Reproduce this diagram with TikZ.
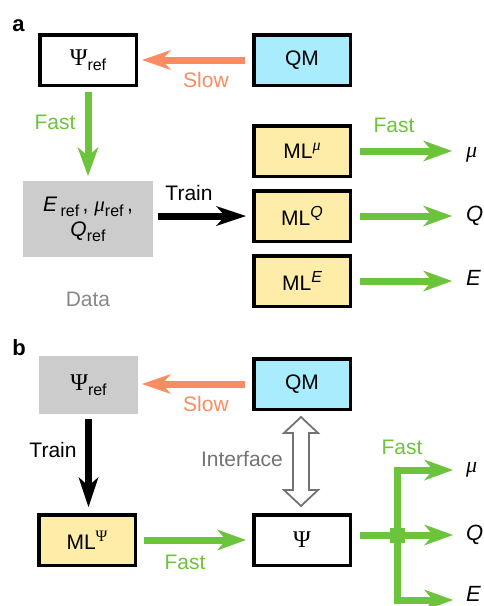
\documentclass[tikz,border=0pt]{standalone}
\usepackage{fontspec}
\setmainfont{Liberation Sans}
\newfontfamily\grk{Liberation Serif}
\usetikzlibrary{arrows.meta,calc}
\definecolor{fastgreen}{HTML}{6CC33C}
\definecolor{sloworange}{HTML}{F98C62}
\definecolor{qmcyan}{HTML}{A8ECFD}
\definecolor{mlyellow}{HTML}{FEEDA9}
\definecolor{datagray}{HTML}{CCCCCC}
\definecolor{labelgray}{HTML}{888888}
\definecolor{ifgray}{HTML}{737373}
\newcommand\mysub[1]{\raisebox{-5pt}{\fontsize{16}{16}\selectfont #1}}
\newcommand\mysup[1]{\raisebox{8pt}{\fontsize{16}{16}\selectfont #1}}
\newcommand\gPsi{{\grk\fontsize{24}{25}\selectfont Ψ}}
\newcommand\gPsiS{{\grk Ψ}}
\newcommand\gmu{{\grk\itshape μ}}
\begin{document}
\begin{tikzpicture}[x=1pt,y=-1pt,
  font=\fontsize{21}{25}\selectfont,
  box/.style={draw=black, line width=3.5pt, minimum width=96.5pt, minimum height=50.5pt, inner sep=0pt, outer sep=1.75pt},
  qmbox/.style={box, fill=qmcyan},
  mlbox/.style={box, fill=mlyellow},
  plainbox/.style={box, fill=white},
  graybox/.style={fill=datagray, inner sep=0pt, outer sep=0pt},
  lbl/.style={inner sep=0pt},
  greenlbl/.style={lbl, text=fastgreen},
  orangelbl/.style={lbl, text=sloworange},
  outlbl/.style={lbl, anchor=west, font=\fontsize{22}{24}\selectfont},
  panel/.style={lbl, font=\fontsize{22}{24}\selectfont\bfseries},
  shaft/.style={line width=7pt},
  gtip/.tip={Stealth[length=29pt,width=21pt,inset=9pt,line width=0pt]},
  greenarrow/.style={shaft, draw=fastgreen, -gtip},
  greenline/.style={shaft, draw=fastgreen, line join=miter},
  orangearrow/.style={shaft, draw=sloworange, -{Stealth[length=29pt,width=20pt,inset=9pt,line width=0pt]}},
  blackarrow/.style={shaft, draw=black, -{Stealth[length=30pt,width=20pt,inset=9pt,line width=0pt]}}
]
\useasboundingbox (0,0) rectangle (484,606);

% ---------------- panel a ----------------
\node[panel] (pa) at (18.5,26) {a};
\node[plainbox] (psiA) at (88,60) {\gPsi\mysub{ref}};
\node[qmbox] (qmA) at (302,60) {QM};
\node[graybox, minimum width=130pt, minimum height=76pt, align=center] (data) at (88,219)
  {{\itshape E}\,\mysub{ref}\,, \gmu\mysub{ref}\,,\\{\itshape Q}\mysub{ref}};
\node[lbl, text=labelgray] (datalbl) at (88,299) {Data};
\node[mlbox] (mlmu) at (302,151) {ML\mysup{\gmu}};
\node[mlbox] (mlQ) at (302,216) {ML\mysup{\itshape Q}};
\node[mlbox] (mlE) at (302,281) {ML\mysup{\itshape E}};
\node[outlbl] (muA) at (466,155) {\gmu};
\node[outlbl] (QA) at (466,216) {\itshape Q};
\node[outlbl] (EA) at (466,278) {\itshape E};

\draw[orangearrow, shorten <=7pt, shorten >=4pt] (qmA.west) -- (psiA.east);
\node[orangelbl] (slowA) at (206,80) {Slow};
\draw[greenarrow, shorten <=5pt, shorten >=5pt] (psiA.south) -- (data.north);
\node[greenlbl] (fastA1) at (55,122) {Fast};
\draw[blackarrow, shorten <=5pt, shorten >=6pt] (data.east |- mlQ.west) -- (mlQ.west);
\node[lbl] (trainA) at (189,193) {Train};
\draw[greenarrow, shorten <=8pt, shorten >=14pt] (mlmu.east) -- (mlmu.east -| muA.west);
\draw[greenarrow, shorten <=8pt, shorten >=14pt] (mlQ.east) -- (mlQ.east -| QA.west);
\draw[greenarrow, shorten <=8pt, shorten >=14pt] (mlE.east) -- (mlE.east -| EA.west);
\node[greenlbl] (fastA2) at (394,125) {Fast};

% ---------------- panel b ----------------
\node[panel] (pb) at (19,347.5) {b};
\node[graybox, minimum width=99pt, minimum height=58pt] (psiB) at (88.5,385) {\gPsi\mysub{ref}};
\node[qmbox] (qmB) at (302,384) {QM};
\node[mlbox] (mlpsi) at (87,540) {ML\mysup{\gPsiS}};
\node[plainbox] (psiC) at (302,540) {\gPsi};
\node[outlbl] (muB) at (466,470) {\gmu};
\node[outlbl] (QB) at (466,535) {\itshape Q};
\node[outlbl] (EB) at (466,594) {\itshape E};
\coordinate (eB) at (466,600);

\draw[orangearrow, shorten <=7pt, shorten >=4pt] (qmB.west) -- (qmB.west -| psiB.east);
\node[orangelbl] (slowB) at (206,404) {Slow};
\draw[blackarrow, shorten <=5pt, shorten >=6pt] (psiB.south) -- (psiB.south |- mlpsi.north);
\node[lbl] (trainB) at (53,450) {Train};

% interface double arrow
\coordinate (ia) at ($(qmB.south)+(-1,6)$);
\coordinate (ib) at ($(psiC.north)+(-1,-7)$);
\draw[ifgray, line width=1.8pt, fill=white, line join=miter]
  (ia) -- ++(17,16) -- ++(-9,0) -- ($(ib)+(8,-16)$) -- ++(9,0) -- (ib)
  -- ++(-17,-16) -- ++(9,0) -- ($(ia)+(-8,16)$) -- ++(-9,0) -- cycle;
\node[lbl, text=ifgray] (iflbl) at (242,459) {Interface};

\draw[greenarrow, shorten <=7pt, shorten >=6pt] (mlpsi.east) -- (mlpsi.east -| psiC.west);
\node[greenlbl] (fastB1) at (185,562) {Fast};

% branching output
\coordinate (j) at (397,535);
\draw[greenarrow, shorten <=8pt, shorten >=13pt] (psiC.east |- j) -- (QB.west);
\draw[greenline, gtip-gtip, shorten <=13pt, shorten >=13pt]
  (muB.west) -- (j |- muB.west) -- (j |- eB) -- (eB);
\node[fill=fastgreen, minimum size=15pt, inner sep=0pt] (jn) at (j) {};
\node[greenlbl] (fastB2) at (402,447) {Fast};
\end{tikzpicture}
\end{document}
